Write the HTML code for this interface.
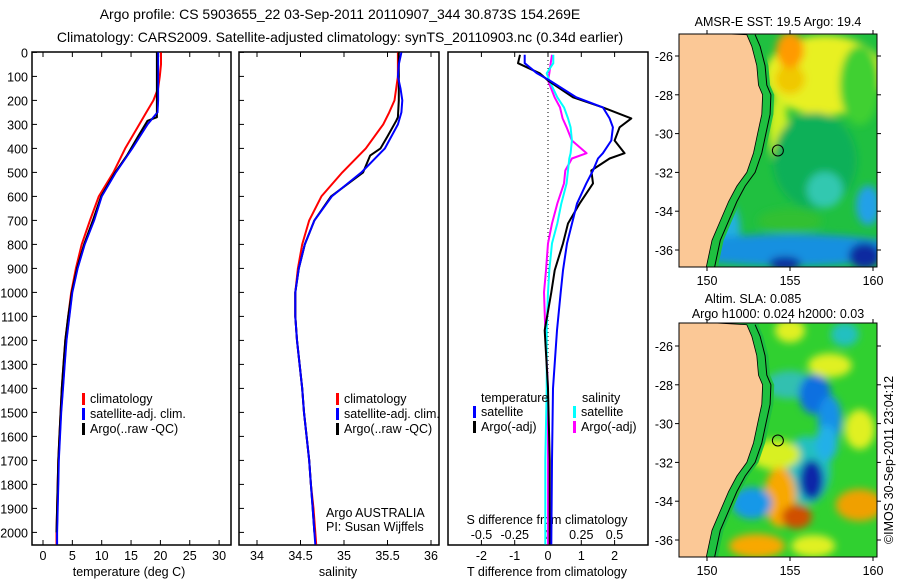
<!DOCTYPE html>
<html><head><meta charset="utf-8">
<style>
body{margin:0;background:#fff;}
svg{display:block;font-family:"Liberation Sans",sans-serif;}
text{fill:#000;}
</style></head>
<body>
<svg id="fig" width="900" height="580" viewBox="0 0 900 580" xmlns="http://www.w3.org/2000/svg">
<defs>
<filter id="blur" x="-50%" y="-50%" width="200%" height="200%"><feGaussianBlur stdDeviation="4"/></filter>
<clipPath id="clipTop"><rect x="679" y="34" width="198" height="233"/></clipPath>
<clipPath id="clipBot"><rect x="679" y="323" width="198" height="234"/></clipPath>
</defs>
<text x="340" y="19" font-size="14" text-anchor="middle">Argo profile: CS 5903655_22 03-Sep-2011 20110907_344 30.873S 154.269E</text>
<text x="340" y="42" font-size="14" text-anchor="middle">Climatology: CARS2009. Satellite-adjusted climatology: synTS_20110903.nc (0.34d earlier)</text>
<g id="plots"></g>
<g id="maps"></g>
</svg>
<script>
// ---------- data ----------
const depths = [0,50,100,150,200,250,300,400,500,600,700,800,900,1000,1100,1200,1300,1400,1500,1600,1700,1800,1900,2000,2050];
const tempClim = [20.1,20.1,19.9,19.6,18.8,17.6,16.4,14.0,12.0,9.5,8.0,6.6,5.6,4.8,4.3,3.8,3.5,3.2,3.0,2.8,2.6,2.5,2.4,2.3,2.3];
const tempSat  = [19.6,19.6,19.6,19.6,19.6,19.5,17.8,15.2,12.4,10.0,8.7,7.1,5.9,5.0,4.5,4.0,3.7,3.4,3.1,2.9,2.7,2.6,2.5,2.4,2.4];
const argoDepths = [0,100,200,270,285,350,400,430,500,600,700,800,900,1000,1100,1200,1300,1400,1500,1600,1700,1800,1900,2000];
const tempArgo = [19.4,19.4,19.4,19.4,17.8,16.2,15.0,14.3,12.3,9.9,8.5,7.0,5.8,4.9,4.3,3.8,3.5,3.2,3.0,2.8,2.6,2.5,2.4,2.3];

const salClim = [35.62,35.62,35.62,35.6,35.58,35.52,35.45,35.25,34.98,34.74,34.6,34.52,34.47,34.44,34.44,34.46,34.49,34.52,34.54,34.57,34.6,34.62,34.65,34.67,34.68];
const salSat  = [35.66,35.63,35.62,35.65,35.67,35.66,35.62,35.47,35.2,34.86,34.66,34.55,34.48,34.44,34.44,34.46,34.49,34.52,34.54,34.57,34.6,34.62,34.64,34.66,34.67];
const salArgo = [35.63,35.63,35.63,35.62,35.6,35.5,35.42,35.3,35.22,34.85,34.66,34.55,34.48,34.44,34.44,34.46,34.49,34.52,34.54,34.57,34.6,34.62,34.64,34.66];

const diffDepths = [10,45,87,117,187,229,275,312,367,420,442,492,546,630,713,796,908,1000,1158,1400,1700,2050];
const tDiffSat  = [-0.7,-0.7,-0.33,0.05,0.85,1.65,1.85,1.95,1.9,1.65,1.5,1.35,1.15,0.87,0.72,0.57,0.45,0.38,0.27,0.15,0.12,0.1];
const tDiffArgo = [-0.84,-0.9,-0.25,0.0,0.75,1.65,2.5,2.15,2.0,2.3,1.85,1.3,1.35,0.95,0.6,0.45,0.2,0.1,-0.1,0.0,0.05,0.05];
const sDiffSat  = [0.04,0.04,-0.01,0.01,0.07,0.12,0.15,0.17,0.18,0.17,0.16,0.15,0.14,0.1,0.07,0.03,0.01,0.0,-0.01,-0.01,-0.02,-0.02];
const sDiffArgo = [0.03,0.02,0.01,0.0,0.05,0.09,0.11,0.14,0.18,0.29,0.18,0.13,0.12,0.07,0.03,0.0,-0.015,-0.03,-0.02,0.0,0.0,0.0];

const depthTicks = [0,100,200,300,400,500,600,700,800,900,1000,1100,1200,1300,1400,1500,1600,1700,1800,1900,2000];
const tempTicks = [0,5,10,15,20,25,30];
const salTicks = [34,34.5,35,35.5,36];
const tDiffTicks = [-2,-1,0,1,2];
const sDiffTicks = [-0.5,-0.25,0,0.25,0.5];
const sDiffTickLabels = ["-0.5","-0.25","0","0.25","0.5"];
const lonTicks = [150,155,160];
const latTicks = [-26,-28,-30,-32,-34,-36];

// ---------- helpers ----------
const NS = "http://www.w3.org/2000/svg";
const plots = document.getElementById('plots');
const maps = document.getElementById('maps');
function mk(tag, attrs, parent, txt){
  const e = document.createElementNS(NS, tag);
  for (const k in attrs) e.setAttribute(k, attrs[k]);
  if (txt !== undefined) e.textContent = txt;
  parent.appendChild(e);
  return e;
}
const yD = d => 52.4 + d * 0.24;
const xT = t => 43 + t * 5.87;
const xS = s => 257 + (s - 34) * 87;
const xTd = t => 548 + t * 33.3;
const xSd = s => 548 + s * 133;

function line(xs, ds, fx, color, name, parent){
  let d = '';
  xs.forEach((v, i) => { d += (i ? 'L' : 'M') + fx(v).toFixed(1) + ' ' + yD(ds[i]).toFixed(1); });
  const p = mk('path', {d: d, fill: 'none', stroke: color, 'stroke-width': 2, 'stroke-linejoin': 'round'}, parent);
  
  
  return p;
}

function panel(x0, x1, name){
  const g = mk('g', {}, plots);
  
  
  mk('rect', {x: x0, y: 52, width: x1 - x0, height: 493, fill: 'none', stroke: '#000', 'stroke-width': 1.5}, g);
  return g;
}

// ---------- panel 1: temperature ----------
const p1 = panel(32, 231, 'temperature-panel');
depthTicks.forEach(d => {
  const t = mk('text', {x: 28, y: yD(d) + 5, 'font-size': 12.5, 'text-anchor': 'end'}, plots, String(d));
  
  
  mk('line', {x1: 32, x2: 37, y1: yD(d), y2: yD(d), stroke: '#000'}, p1);
});
tempTicks.forEach(v => {
  mk('line', {x1: xT(v), x2: xT(v), y1: 545, y2: 540, stroke: '#000'}, p1);
  mk('line', {x1: xT(v), x2: xT(v), y1: 52, y2: 57, stroke: '#000'}, p1);
  const t = mk('text', {x: xT(v), y: 560, 'font-size': 12.5, 'text-anchor': 'middle'}, p1, String(v));
  
  
});
const tx1 = mk('text', {x: 129, y: 576, 'font-size': 12.5, 'text-anchor': 'middle'}, p1, 'temperature (deg C)');


line(tempClim, depths, xT, '#f00', 'temperature-climatology-line', p1);
line(tempSat, depths, xT, '#00f', 'temperature-satellite-line', p1);
line(tempArgo, argoDepths, xT, '#000', 'temperature-argo-line', p1);
line(tempSat, depths, xT, '#00f', 'temperature-satellite-line-top', p1).setAttribute('stroke-width', 1.5);

function legend(parent, x, y, items, nm){
  items.forEach((it, i) => {
    const g = mk('g', {}, parent);
    
    
    mk('rect', {x: x, y: y + i * 15 - 10, width: 3, height: 12, fill: it[0]}, g);
    mk('text', {x: x + 8, y: y + i * 15, 'font-size': 12.5}, g, it[1]);
  });
}
legend(p1, 82, 403, [['#f00','climatology'],['#00f','satellite-adj. clim.'],['#000','Argo(..raw -QC)']], 'temperature-legend-entry');

// ---------- panel 2: salinity ----------
const p2 = panel(239, 439, 'salinity-panel');
depthTicks.forEach(d => {
  mk('line', {x1: 239, x2: 244, y1: yD(d), y2: yD(d), stroke: '#000'}, p2);
});
salTicks.forEach(v => {
  mk('line', {x1: xS(v), x2: xS(v), y1: 545, y2: 540, stroke: '#000'}, p2);
  mk('line', {x1: xS(v), x2: xS(v), y1: 52, y2: 57, stroke: '#000'}, p2);
  const t = mk('text', {x: xS(v), y: 560, 'font-size': 12.5, 'text-anchor': 'middle'}, p2, String(v));
  
  
});
const tx2 = mk('text', {x: 338, y: 576, 'font-size': 12.5, 'text-anchor': 'middle'}, p2, 'salinity');


line(salClim, depths, xS, '#f00', 'salinity-climatology-line', p2);
line(salArgo, argoDepths, xS, '#000', 'salinity-argo-line', p2);
line(salSat, depths, xS, '#00f', 'salinity-satellite-line', p2);
legend(p2, 336, 403, [['#f00','climatology'],['#00f','satellite-adj. clim.'],['#000','Argo(..raw -QC)']], 'salinity-legend-entry');
const ag = mk('text', {x: 326, y: 517, 'font-size': 12.5}, p2, 'Argo AUSTRALIA');


const pi = mk('text', {x: 326, y: 531, 'font-size': 12.5}, p2, 'PI: Susan Wijffels');



// ---------- panel 3: differences ----------
const p3 = panel(448, 648, 'difference-panel');
mk('line', {x1: 548, x2: 548, y1: 52, y2: 545, stroke: '#000', 'stroke-dasharray': '1 3'}, p3);
tDiffTicks.forEach(v => {
  mk('line', {x1: xTd(v), x2: xTd(v), y1: 545, y2: 540, stroke: '#000'}, p3);
  mk('line', {x1: xTd(v), x2: xTd(v), y1: 52, y2: 57, stroke: '#000'}, p3);
  const t = mk('text', {x: xTd(v), y: 560, 'font-size': 12.5, 'text-anchor': 'middle'}, p3, String(v));
  
  
});
sDiffTicks.forEach((v, i) => {
  const t = mk('text', {x: xSd(v), y: 539, 'font-size': 12.5, 'text-anchor': 'middle'}, p3, sDiffTickLabels[i]);
  
  
});
const tx3 = mk('text', {x: 547, y: 576, 'font-size': 12.5, 'text-anchor': 'middle'}, p3, 'T difference from climatology');


const sx3 = mk('text', {x: 547, y: 524, 'font-size': 12.5, 'text-anchor': 'middle'}, p3, 'S difference from climatology');


line(sDiffArgo, diffDepths, xSd, '#f0f', 'salinity-diff-argo-line', p3);
line(sDiffSat, diffDepths, xSd, '#0ff', 'salinity-diff-satellite-line', p3);
line(tDiffArgo, diffDepths, xTd, '#000', 'temperature-diff-argo-line', p3);
line(tDiffSat, diffDepths, xTd, '#00f', 'temperature-diff-satellite-line', p3);
const lt = mk('text', {x: 481, y: 402, 'font-size': 12.5}, p3, 'temperature');


const ls = mk('text', {x: 582, y: 402, 'font-size': 12.5}, p3, 'salinity');


legend(p3, 473, 416, [['#00f','satellite'],['#000','Argo(-adj)']], 'diff-temperature-legend-entry');
legend(p3, 573, 416, [['#0ff','satellite'],['#f0f','Argo(-adj)']], 'diff-salinity-legend-entry');

// ---------- maps ----------
const coastLat = [-24.9,-25.5,-26.5,-27.5,-28.0,-29.0,-30.0,-31.0,-32.0,-32.7,-33.5,-34.5,-35.5,-36.9];
const coastLon = [152.4,152.7,153.0,153.1,153.35,153.3,153.05,152.8,152.4,151.8,151.3,150.8,150.3,149.95];
const argoLon = 154.27, argoLat = -30.87;

function mapPanel(top, bot, lat26, clipId, base, blobs, name){
  const g = mk('g', {}, maps);
  
  
  const lx = lon => 707 + (lon - 150) * 16.6;
  const ly = lat => lat26 + (-26 - lat) * 19.4;
  const inner = mk('g', {'clip-path': 'url(#' + clipId + ')'}, g);
  mk('rect', {x: 679, y: top, width: 198, height: bot - top, fill: base}, inner);
  const bg = mk('g', {filter: 'url(#blur)'}, inner);
  blobs.forEach(b => mk('ellipse', {cx: lx(b[0]), cy: ly(b[1]), rx: b[2], ry: b[3], fill: b[4]}, bg));
  let shelf = 'M' + lx(coastLon[0] + 0.9) + ' ' + (top - 2);
  coastLat.forEach((la, i) => { shelf += 'L' + lx(coastLon[i] + 0.7) + ' ' + ly(la); });
  shelf += 'L' + lx(149) + ' ' + (bot + 2) + 'L' + lx(149) + ' ' + (top - 2) + 'Z';
  mk('path', {d: shelf, fill: '#1fc040'}, inner);
  let land = 'M679 ' + (top - 2);
  coastLat.forEach((la, i) => { land += 'L' + lx(coastLon[i]).toFixed(1) + ' ' + ly(la).toFixed(1); });
  land += 'L679 ' + (bot + 2) + 'Z';
  const lp = mk('path', {d: land, fill: '#fbc896', stroke: '#000', 'stroke-width': 0.8}, inner);
  
  
  let iso = '';
  coastLat.forEach((la, i) => { iso += (i ? 'L' : 'M') + lx(coastLon[i] + 0.5).toFixed(1) + ' ' + ly(la).toFixed(1); });
  mk('path', {d: iso, fill: 'none', stroke: '#000', 'stroke-width': 1}, inner);
  const c = mk('circle', {cx: lx(argoLon), cy: ly(argoLat), r: 5.5, fill: 'none', stroke: '#000', 'stroke-width': 1}, g);
  
  
  mk('rect', {x: 679, y: top, width: 198, height: bot - top, fill: 'none', stroke: '#000', 'stroke-width': 1}, g);
  lonTicks.forEach(v => {
    mk('line', {x1: lx(v), x2: lx(v), y1: bot, y2: bot + 4, stroke: '#000'}, g);
    mk('line', {x1: lx(v), x2: lx(v), y1: top, y2: top - 4, stroke: '#000'}, g);
    const t = mk('text', {x: lx(v), y: bot + 18, 'font-size': 12.5, 'text-anchor': 'middle'}, g, String(v));
    
    
  });
  latTicks.forEach(v => {
    mk('line', {x1: 679, x2: 675, y1: ly(v), y2: ly(v), stroke: '#000'}, g);
    mk('line', {x1: 877, x2: 881, y1: ly(v), y2: ly(v), stroke: '#000'}, g);
    const t = mk('text', {x: 673, y: ly(v) + 5, 'font-size': 12.5, 'text-anchor': 'end'}, g, String(v));
    
    
  });
}
// lon, lat, rx, ry, color
const sstBlobs = [
  [157.1,-27.0,60,40,'#e8f020'],[155.0,-27.2,15,15,'#f0c800'],[155.0,-25.7,14,18,'#ff9a00'],
  [154.3,-29.8,10,35,'#d0f020'],[159.2,-27.5,20,40,'#40d030'],[156.5,-31.4,42,48,'#10b058'],
  [157.1,-32.9,18,18,'#30c8b0'],[159.7,-33.7,12,20,'#20a0e8'],[155.0,-34.5,32,12,'#30c030'],
  [151.1,-35.0,15,30,'#20b0e0'],[155.0,-36.0,115,16,'#1890e0'],[154.7,-36.7,16,7,'#0a2ca0'],
  [159.5,-36.3,16,13,'#0a2ca0']
];
const slaBlobs = [
  [155.0,-25.2,15,12,'#e0f020'],[158.3,-25.4,14,12,'#20c0c0'],[157.4,-27.0,22,12,'#e0f020'],
  [155.0,-28.0,25,14,'#30c0b0'],[156.0,-32.4,24,34,'#20c0c0'],[156.5,-28.5,16,20,'#1070e0'],
  [157.4,-29.8,12,24,'#1890e8'],[157.2,-31.0,11,18,'#20b0e8'],[156.3,-32.9,12,20,'#0a28a8'],
  [154.1,-31.6,25,15,'#d8f020'],[154.4,-33.8,16,30,'#f8a800'],[155.4,-34.8,15,12,'#d05000'],
  [152.7,-34.1,20,16,'#1898e8'],[159.2,-34.2,24,16,'#f0a000'],[159.2,-30.3,15,20,'#e0f020'],
  [153.0,-36.3,28,12,'#f8a800'],[156.4,-36.3,22,11,'#e0f020']
];
mapPanel(34, 267, 56, 'clipTop', '#20c040', sstBlobs, 'sst-map');
mapPanel(323, 557, 346, 'clipBot', '#30d030', slaBlobs, 'sla-map');
const m1 = mk('text', {x: 778, y: 26, 'font-size': 12.5, 'text-anchor': 'middle'}, maps, 'AMSR-E SST: 19.5 Argo: 19.4');


const m2 = mk('text', {x: 753, y: 303, 'font-size': 12.5, 'text-anchor': 'middle'}, maps, 'Altim. SLA: 0.085');


const m3 = mk('text', {x: 778, y: 318, 'font-size': 12.5, 'text-anchor': 'middle'}, maps, 'Argo h1000: 0.024 h2000: 0.03');


const cr = mk('text', {x: 0, y: 0, 'font-size': 12.5, 'text-anchor': 'middle', transform: 'translate(893,460) rotate(-90)'}, maps, '©IMOS 30-Sep-2011 23:04:12');


</script>
</body></html>
